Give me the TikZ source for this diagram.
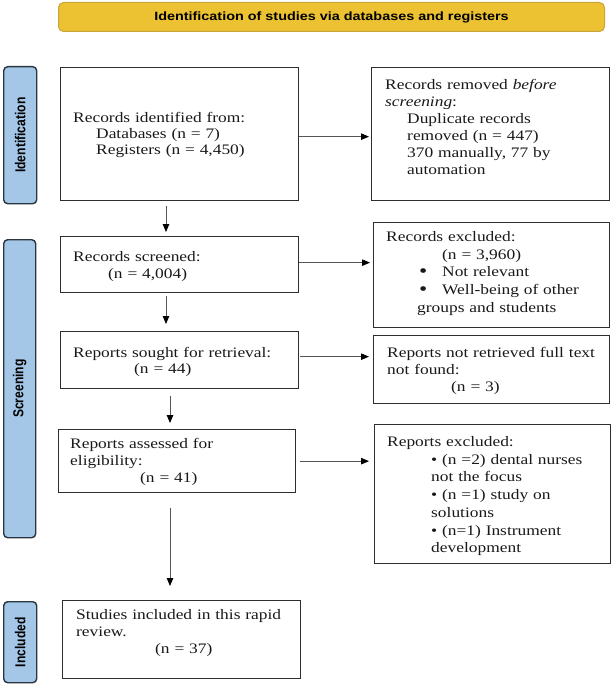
\documentclass[tikz,border=0pt]{standalone}
\usepackage{fontspec}
\setmainfont{Liberation Serif}[FakeStretch=1.2]
\newfontfamily\hdrfont{Liberation Sans}[FakeStretch=1.2]
\newfontfamily\sidefont{Liberation Sans}[FakeStretch=0.84]
\usetikzlibrary{arrows.meta}
\definecolor{gold}{HTML}{ECC232}
\definecolor{goldline}{HTML}{C9A43A}
\definecolor{sideblue}{HTML}{A5C7E7}
\definecolor{sideline}{HTML}{2B3540}
\definecolor{boxline}{HTML}{2E2E2E}
\definecolor{arrline}{HTML}{555555}
\newcommand{\bigbul}{\raisebox{-0.5pt}{\scalebox{1.35}{•}}}
\begin{document}
\begin{tikzpicture}[x=1pt,y=-1pt,
  box/.style={draw=boxline, line width=1.3pt, inner sep=0pt, anchor=north west},
  side/.style={draw=sideline, fill=sideblue, line width=1.4pt, rounded corners=4pt, inner sep=0pt, anchor=north west, font=\sidefont\bfseries\fontsize{14.4}{16}\selectfont},
  hdr/.style={draw=goldline, fill=gold, line width=1pt, rounded corners=5pt, inner sep=0pt, anchor=north west, font=\hdrfont\bfseries\fontsize{12}{14}\selectfont},
  txt/.style={anchor=base west, inner sep=0pt, text width=232pt, align=left, text=black!90, font=\fontsize{14.5}{17}\selectfont},
  arr/.style={draw=arrline, line width=0.8pt, -{Triangle[length=8pt,width=6.5pt,color=black]}}
]
\useasboundingbox (0,0) rectangle (614,685);

% header
\node[hdr, minimum width=546pt, minimum height=29pt] (head) at (58,2) {Identification of studies via databases and registers};

% side bars
\node[side, minimum width=33pt, minimum height=137pt] (sid) at (3,66) {\rotatebox{90}{Identification}};
\node[side, minimum width=32pt, minimum height=298pt] (sscr) at (3,239) {\rotatebox{90}{Screening}};
\node[side, minimum width=33pt, minimum height=81pt] (sinc) at (3,601) {\rotatebox{90}{Included}};

% boxes
\node[box, minimum width=238pt, minimum height=133pt] (b1) at (60,67) {};
\node[box, minimum width=238pt, minimum height=133pt] (r1) at (371,67) {};
\node[box, minimum width=238pt, minimum height=56pt] (b2) at (60,236) {};
\node[box, minimum width=236pt, minimum height=105pt] (r2) at (373,222) {};
\node[box, minimum width=238pt, minimum height=57pt] (b3) at (60,331) {};
\node[box, minimum width=236pt, minimum height=68pt] (r3) at (373,335) {};
\node[box, minimum width=237pt, minimum height=63pt] (b4) at (58,429) {};
\node[box, minimum width=236pt, minimum height=139pt] (r4) at (374,424) {};
\node[box, minimum width=238pt, minimum height=78pt] (b5) at (62,600) {};

% texts
\node[txt, font=\fontsize{14.5}{16}\selectfont] (b1t) at (73,122.5) {Records identified from:\\
\hspace*{23pt}Databases (n = 7)\\
\hspace*{23pt}Registers (n = 4,450)};
\node[txt] (r1t) at (385,89.5) {Records removed \textit{before}\\
\textit{screening}:\\
\hspace*{22pt}Duplicate records\\
\hspace*{22pt}removed (n = 447)\\
\hspace*{22pt}370 manually, 77 by\\
\hspace*{22pt}automation};
\node[txt] (b2t) at (73,261.5) {Records screened:\\
\hspace*{35pt}(n = 4,004)};
\node[txt, font=\fontsize{14.5}{17.7}\selectfont] (r2t) at (386,241.5) {Records excluded:\\
\hspace*{56pt}(n = 3,960)\\
\hspace*{33pt}\makebox[23pt][l]{\bigbul}Not relevant\\
\hspace*{33pt}\makebox[23pt][l]{\bigbul}Well-being of other\\
\hspace*{31pt}groups and students};
\node[txt, font=\fontsize{14.5}{16}\selectfont] (b3t) at (73,357.5) {Reports sought for retrieval:\\
\hspace*{61pt}(n = 44)};
\node[txt] (r3t) at (387,357.5) {Reports not retrieved full text\\
not found:\\
\hspace*{64pt}(n = 3)};
\node[txt] (b4t) at (70,448.5) {Reports assessed for\\
eligibility:\\
\hspace*{70pt}(n = 41)};
\node[txt, font=\fontsize{14.5}{17.7}\selectfont] (r4t) at (387,446.5) {Reports excluded:\\
\hspace*{44pt}• (n =2) dental nurses\\
\hspace*{44pt}not the focus\\
\hspace*{44pt}• (n =1) study on\\
\hspace*{44pt}solutions\\
\hspace*{44pt}• (n=1) Instrument\\
\hspace*{44pt}development};
\node[txt] (b5t) at (76,619.5) {Studies included in this rapid\\
review.\\
\hspace*{79pt}(n = 37)};

% horizontal arrows
\draw[arr, shorten >=2pt] ([yshift=-2.5pt]b1.east) -- ([yshift=-2.5pt]b1.east -| r1.west);
\draw[arr, shorten >=3pt] ([yshift=2pt]b2.east) -- ([yshift=2pt]b2.east -| r2.west);
\draw[arr, shorten <=1pt, shorten >=4pt] ([yshift=3.5pt]b3.east) -- ([yshift=3.5pt]b3.east -| r3.west);
\draw[arr, shorten <=4pt, shorten >=5pt] (b4.east) -- (b4.east -| r4.west);

% vertical arrows
\coordinate (v1) at (166,0);
\coordinate (v2) at (166,0);
\coordinate (v3) at (170,0);
\coordinate (v4) at (170,0);
\draw[arr, shorten <=5pt, shorten >=4pt] (b1.south -| v1) -- (b2.north -| v1);
\draw[arr, shorten <=3pt, shorten >=7pt] (b2.south -| v2) -- (b3.north -| v2);
\draw[arr, shorten <=7pt, shorten >=6pt] (b3.south -| v3) -- (b4.north -| v3);
\draw[arr, shorten <=15pt, shorten >=14pt] (b4.south -| v4) -- (b5.north -| v4);
\end{tikzpicture}
\end{document}
